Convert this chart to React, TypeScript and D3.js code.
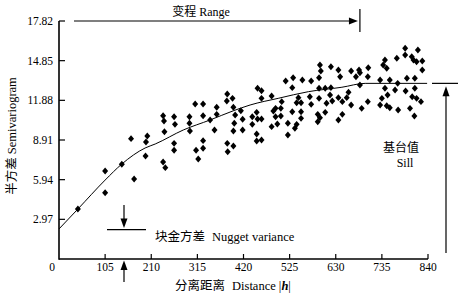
import React from "react";
import * as d3 from "d3";

const distance = [43,105,105,143,164,171,201,198,197,237,239,240,237,242,262,264,262,262,297,297,298,310,312,317,328,328,328,328,344,354,359,359,383,382,395,397,401,399,397,383,384,397,414,418,418,452,461,461,484,440,440,450,452,461,450,450,461,484,488,493,493,497,505,505,507,516,521,521,533,531,531,537,541,545,541,551,551,551,554,571,574,574,592,592,594,596,592,589,594,589,606,606,609,619,619,617,622,636,636,640,636,645,645,655,659,665,665,676,683,685,685,689,704,703,703,731,738,742,746,735,731,742,748,746,753,753,769,771,765,772,788,788,792,789,803,807,804,799,817,814,827,827,810,810,814,809,824];
const gamma = [3.74,6.59,4.96,7.09,9.01,5.99,9.21,8.76,7.71,10.73,10.33,9.53,7.26,6.84,10.65,10.08,8.66,8.14,10.65,10.16,9.58,11.60,8.14,7.49,11.60,10.73,8.86,8.29,10.41,9.66,11.36,10.83,12.35,11.83,12.03,11.36,10.78,10.16,9.58,8.66,8.03,8.46,11.10,10.46,9.66,12.78,12.60,12.03,12.20,10.65,10.08,10.98,10.48,10.48,9.36,8.83,8.91,9.91,11.08,11.28,10.65,10.11,11.28,10.71,11.78,13.33,10.16,9.28,13.57,12.83,11.03,9.79,10.08,12.08,11.70,11.70,11.03,10.53,13.40,12.15,13.33,11.58,13.57,12.78,14.52,14.08,12.03,10.83,10.58,10.28,12.78,10.98,11.66,14.40,12.83,12.28,11.83,14.15,10.41,13.65,12.08,11.78,10.83,12.08,12.48,14.08,11.53,13.65,14.15,13.03,13.95,11.28,14.32,13.65,11.78,13.40,14.52,14.90,14.28,12.03,11.53,12.78,12.28,11.48,13.40,11.33,15.03,13.15,12.65,11.16,15.78,15.27,13.53,12.58,15.15,14.90,12.15,11.28,15.65,14.77,14.82,14.15,13.53,12.78,12.03,10.71,11.78];

const curveH = [0,43,105,143,196,219,283,344,397,435,499,568,644,697,838];
const curveG = [2.25,3.74,5.91,7.11,8.31,8.61,9.66,10.41,11.10,11.53,12.03,12.53,12.86,13.15,13.15];

const xTicks = [105,210,315,420,525,630,735,840];
const yTicks = [2.97,5.94,8.91,11.88,14.85,17.82];

const nugget = 2.2;
const sill = 13.15;
const rangeH = 685;

const serif = "'Liberation Serif', 'Times New Roman', 'Noto Sans CJK SC', serif";

const diamond = {
  draw(ctx: any, size: number) {
    const w = Math.sqrt(size) / 2;
    const h = w * 1.15;
    ctx.moveTo(0, -h);
    ctx.lineTo(w, 0);
    ctx.lineTo(0, h);
    ctx.lineTo(-w, 0);
    ctx.closePath();
  },
};

export default function App() {
  const x = d3.scaleLinear().domain([0, 840]).range([59, 428]);
  const y = d3.scaleLinear().domain([0, 17.82]).range([259, 21]);
  const line = d3
    .line<number>()
    .x((_, i) => x(curveH[i]))
    .y((d) => y(d))
    .curve(d3.curveMonotoneX);
  const sym = d3.symbol(diamond as any, 36)();
  const x0 = x(0), yb = y(0), yt = y(17.82);
  const xr = x(rangeH);
  const ys = y(sill);
  const yn = y(nugget);
  const xn = 124;
  const xs = 446;

  return (
    <svg width={470} height={298} style={{ position: "absolute", left: 0, top: 0, background: "#fff" }} fontFamily={serif}>
      {/* axes */}
      <line x1={x0} x2={x0} y1={yt} y2={yb + 0.75} stroke="#000" strokeWidth={1.6} />
      <line x1={x0} x2={x(840)} y1={yb} y2={yb} stroke="#000" strokeWidth={1.6} />
      {yTicks.map((t) => (
        <g key={t}>
          <line x1={x0} x2={x0 + 6} y1={y(t)} y2={y(t)} stroke="#000" strokeWidth={1.2} />
          <text x={53} y={y(t) + 4} fontSize={11.5} textAnchor="end">{t.toFixed(2)}</text>
        </g>
      ))}
      {xTicks.map((t) => (
        <g key={t}>
          <line x1={x(t)} x2={x(t)} y1={yb} y2={yb - 5} stroke="#000" strokeWidth={1.2} />
          <text x={x(t)} y={271} fontSize={11.5} textAnchor="middle">{t}</text>
        </g>
      ))}
      <text x={x0 - 7} y={271} fontSize={11.5} textAnchor="middle">0</text>

      {/* axis titles */}
      <text x={175} y={290} fontSize={12.5}>
        分离距离<tspan dx={7}>Distance |</tspan><tspan fontStyle="italic" fontWeight="bold">h</tspan>|
      </text>
      <text transform={`translate(16,136) rotate(-90)`} fontSize={12.5} textAnchor="middle">
        半方差 Semivariogram
      </text>

      {/* points */}
      {distance.map((d, i) => (
        <path key={i} d={sym!} transform={`translate(${x(d)},${y(gamma[i])})`} fill="#000" />
      ))}

      {/* model curve */}
      <path d={line(curveG)!} fill="none" stroke="#000" strokeWidth={1} />

      {/* range annotation */}
      <text x={201} y={16} fontSize={12} textAnchor="middle">变程 Range</text>
      <line x1={74} x2={xr - 8} y1={yt} y2={yt} stroke="#000" strokeWidth={1.2} />
      <path d={`M${xr - 2},${yt} L${xr - 11},${yt - 3.5} L${xr - 11},${yt + 3.5} Z`} fill="#000" />
      <line x1={xr} x2={xr} y1={9} y2={32} stroke="#000" strokeWidth={1.2} />

      {/* sill annotation */}
      <line x1={432} x2={458} y1={ys} y2={ys} stroke="#000" strokeWidth={1.2} />
      <line x1={xs} x2={xs} y1={ys + 10} y2={253} stroke="#000" strokeWidth={1.2} />
      <path d={`M${xs},${ys + 3} L${xs - 3.5},${ys + 13} L${xs + 3.5},${ys + 13} Z`} fill="#000" />
      <text x={401} y={152} fontSize={12} textAnchor="middle">基台值</text>
      <text x={405} y={167} fontSize={12} textAnchor="middle">Sill</text>

      {/* nugget annotation */}
      <line x1={107} x2={146} y1={yn} y2={yn} stroke="#000" strokeWidth={1.2} />
      <line x1={xn} x2={xn} y1={205} y2={yn - 8} stroke="#000" strokeWidth={1.2} />
      <path d={`M${xn},${yn - 1.5} L${xn - 3.5},${yn - 11} L${xn + 3.5},${yn - 11} Z`} fill="#000" />
      <line x1={xn} x2={xn} y1={282} y2={yb + 10} stroke="#000" strokeWidth={1.2} />
      <path d={`M${xn},${yb + 1.5} L${xn - 3.5},${yb + 11} L${xn + 3.5},${yb + 11} Z`} fill="#000" />
      <text x={155} y={241} fontSize={12.5}>
        块金方差<tspan dx={7}>Nugget variance</tspan>
      </text>
    </svg>
  );
}
